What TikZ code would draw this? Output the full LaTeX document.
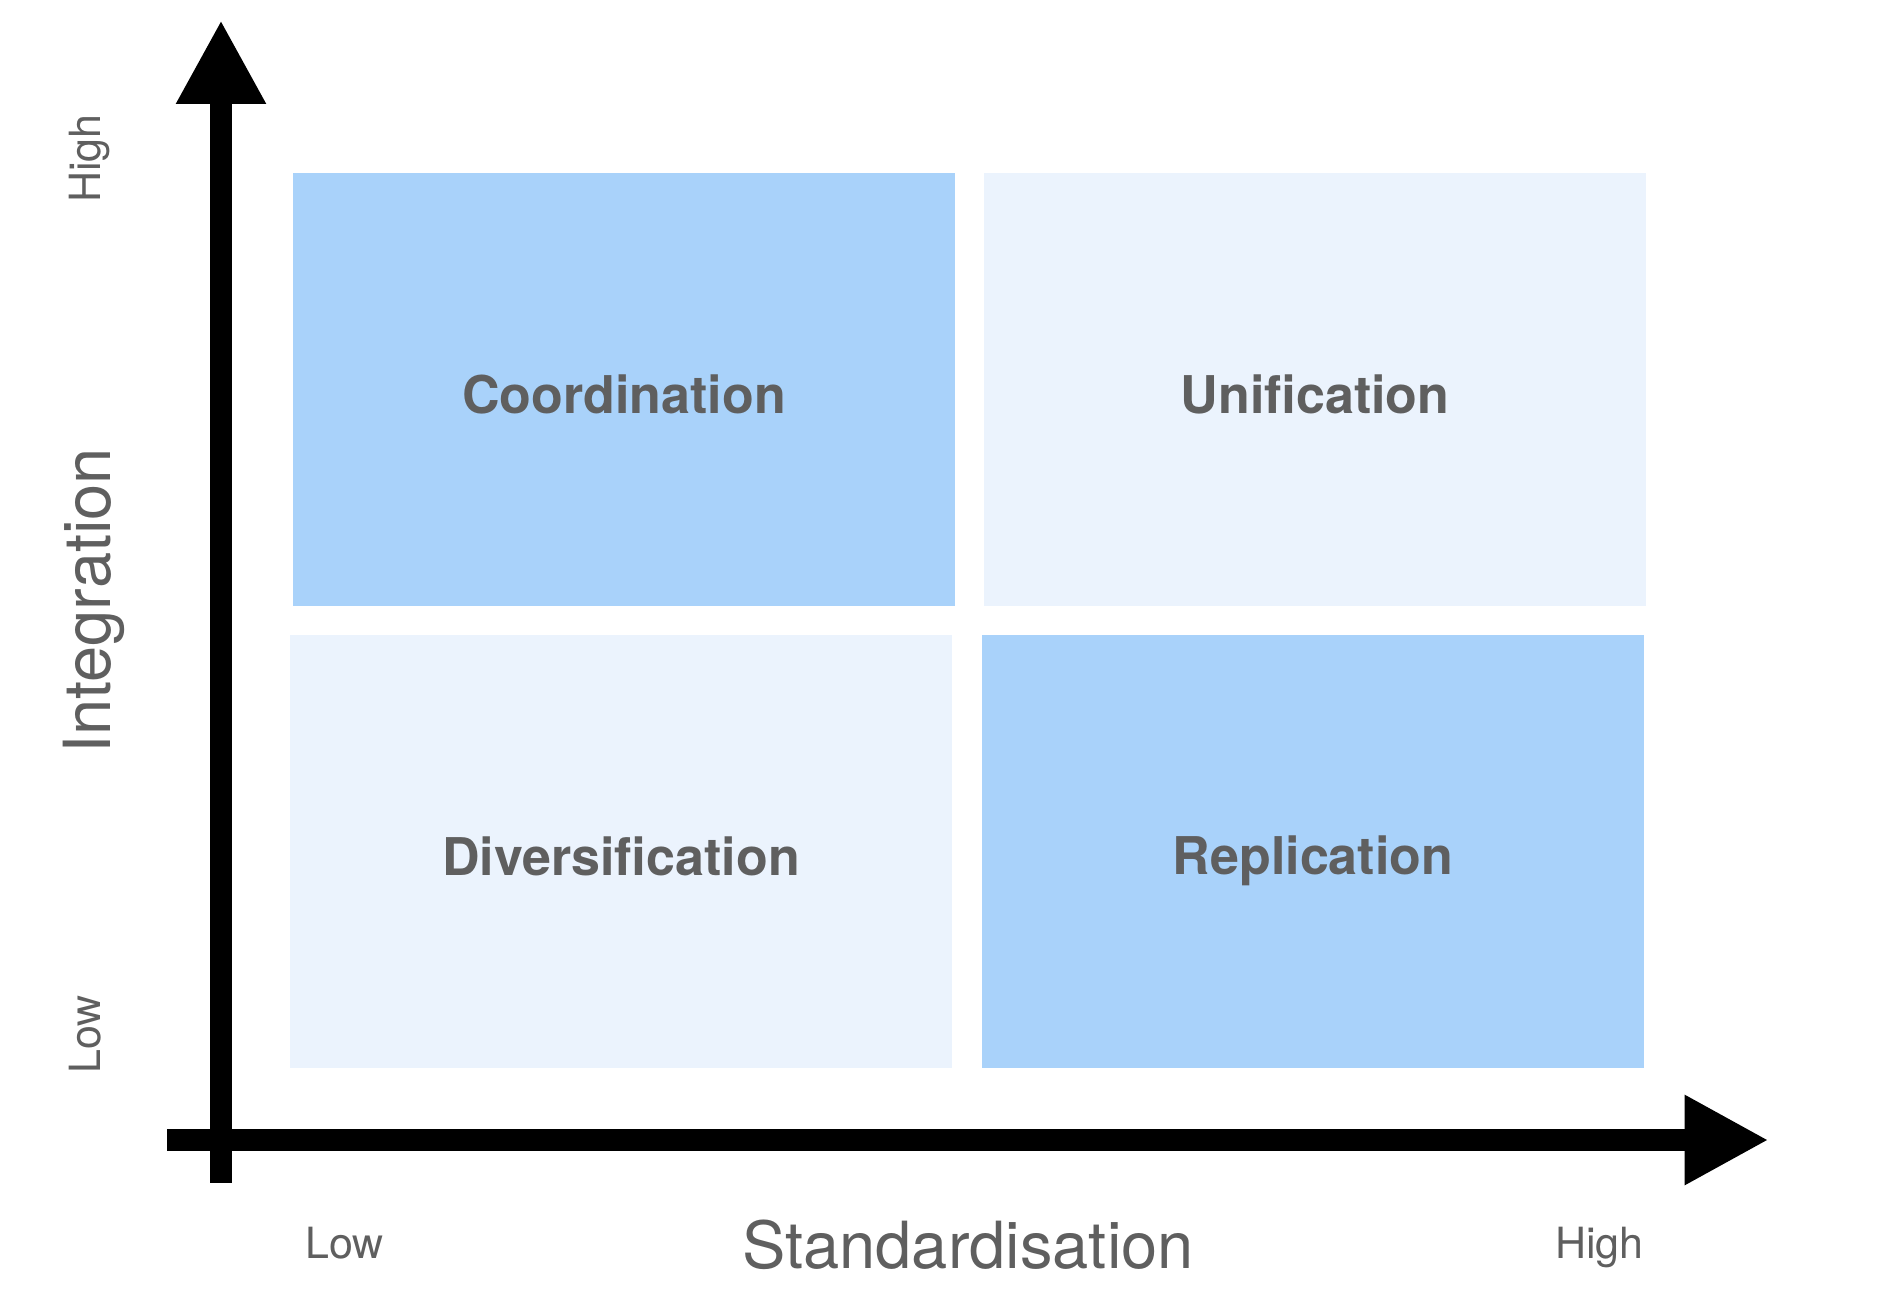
\documentclass[tikz,border=0pt]{standalone}
\usepackage{fontspec}
\setmainfont{TeX Gyre Heros}
\usetikzlibrary{arrows.meta}
\definecolor{darkq}{HTML}{A9D2FA}
\definecolor{lightq}{HTML}{EBF3FD}
\definecolor{txtgray}{HTML}{5F5F5F}
\tikzset{
  quad/.style={draw=none, inner sep=0pt, outer sep=0pt, minimum width=662pt, minimum height=433pt},
  quadlabel/.style={anchor=base, inner sep=0pt, text=txtgray, font=\fontsize{52}{60}\selectfont\bfseries},
  axislabel/.style={anchor=base, inner sep=0pt, text=txtgray, font=\fontsize{65}{75}\selectfont},
  ticklabel/.style={anchor=base, inner sep=0pt, text=txtgray, font=\fontsize{43}{50}\selectfont},
  axis/.style={line width=22pt, line cap=butt, -{Triangle[length=84pt,width=84pt]}}
}
\begin{document}
\begin{tikzpicture}[x=1pt,y=-1pt]
\useasboundingbox (0,0) rectangle (1898,1316);
% quadrants
\node[quad, fill=darkq]  (coord) at (624,389.5) {};
\node[quad, fill=lightq] (unif)  at (1315,389.5) {};
\node[quad, fill=lightq] (div)   at (621,851.5) {};
\node[quad, fill=darkq]  (repl)  at (1313,851.5) {};
% quadrant labels
\node[quadlabel] (coordl) at (624,413) {Coordination};
\node[quadlabel] (unifl)  at (1315,413) {Unification};
\node[quadlabel] (divl)   at (621,875) {Diversification};
\node[quadlabel] (repll)  at (1313,874) {Replication};
% axes
\coordinate (ybot) at (221,1182.7);
\coordinate (ytop) at (221,20);
\coordinate (xleft) at (167,1140);
\coordinate (xright) at (1768.7,1140);
\draw[axis] (ybot) -- (ytop);
\draw[axis] (xleft) -- (xright);
% axis labels
\node[axislabel] (xlab) at (968,1268) {Standardisation};
\node[axislabel, rotate=90] (ylab) at (110,601) {Integration};
\node[ticklabel] (xlow)  at (344.5,1258) {Low};
\node[ticklabel] (xhigh) at (1599.5,1258) {High};
\node[ticklabel, rotate=90] (ylow)  at (100,1034.5) {Low};
\node[ticklabel, rotate=90] (yhigh) at (100,158.5) {High};
\end{tikzpicture}
\end{document}
